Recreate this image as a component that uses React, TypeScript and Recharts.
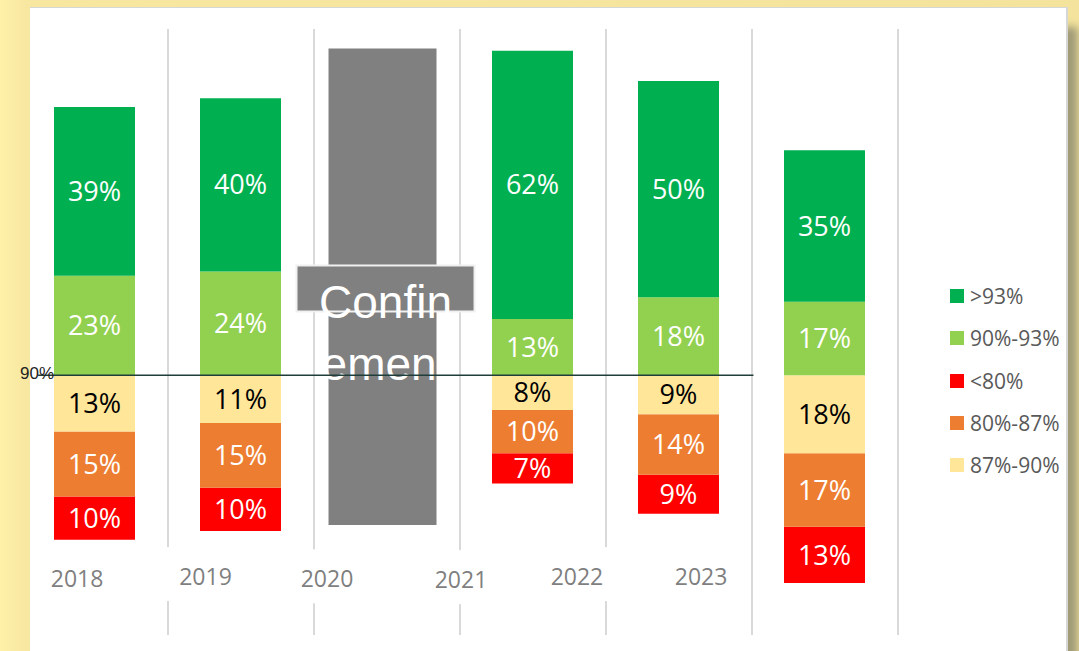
import {
  Bar,
  CartesianGrid,
  ComposedChart,
  LabelList,
  ReferenceLine,
  Scatter,
  XAxis,
  YAxis,
} from "recharts";

// bar slots on a numeric x axis (one slot = one category column)
const SLOTS = [0.5, 1.5, 2.5, 3.5, 4.5, 5.5];
const SEPARATORS = [1, 2, 3, 4, 5, 6];

// share of each band, per bar (null = confinement year)
const GT93 = [39, 40, null, 62, 50, 35];
const R90_93 = [23, 24, null, 13, 18, 17];
const R87_90 = [13, 11, null, 8, 9, 18];
const R80_87 = [15, 15, null, 10, 14, 17];
const LT80 = [10, 10, null, 7, 9, 13];

const CONFINEMENT_INDEX = 2;
const CONFINEMENT_POS = 2.466;
const CONFINEMENT_RANGE = [55.4, 165.5];
const THRESHOLD = 90;

// year captions sit in their own text boxes, not under the bars
const YEARS = ["2018", "2019", "2020", "2021", "2022", "2023"];
const YEAR_POS = [0.377, 1.257, 2.089, 3.007, 3.801, 4.651];
const YEAR_LEVEL = [43.1, 43.6, 43.1, 42.9, 43.6, 43.6];

const COLORS = {
  gt93: "#00B050",
  r90_93: "#92D050",
  lt80: "#FF0000",
  r80_87: "#ED7D31",
  r87_90: "#FFE699",
};

const LEGEND = [
  { key: "gt93", label: ">93%" },
  { key: "r90_93", label: "90%-93%" },
  { key: "lt80", label: "<80%" },
  { key: "r80_87", label: "80%-87%" },
  { key: "r87_90", label: "87%-90%" },
];

const rows = SLOTS.map((x, i) => ({
  x,
  gx: i === CONFINEMENT_INDEX ? CONFINEMENT_POS : x,
  base: GT93[i] == null ? null : THRESHOLD - ((LT80[i] ?? 0) + (R80_87[i] ?? 0) + (R87_90[i] ?? 0)),
  lt80: LT80[i],
  r80_87: R80_87[i],
  r87_90: R87_90[i],
  r90_93: R90_93[i],
  gt93: GT93[i],
  confinement: i === CONFINEMENT_INDEX ? CONFINEMENT_RANGE : null,
}));

const yearLabels = YEARS.map((label, i) => ({ x: YEAR_POS[i], y: YEAR_LEVEL[i], label }));

const pct = (v: unknown) => (v == null ? "" : `${v}%`);
const FONT = "'Open Sans', 'DejaVu Sans', sans-serif";

const YearBox = (props: any) => {
  const { cx, cy, payload } = props;
  if (cx == null || cy == null) return null;
  return (
    <g>
      <rect x={cx - 45} y={cy - 29} width={90} height={54} fill="#fff" />
      <text
        x={cx}
        y={cy}
        textAnchor="middle"
        dominantBaseline="central"
        fontFamily={FONT}
        fontSize={23}
        fill="#7F7F7F"
      >
        {payload.label}
      </text>
    </g>
  );
};

const ConfinementBox = (props: any) => {
  const vb = props.viewBox ?? props;
  const { x, y, width } = vb;
  if (x == null || !width) return null;
  const cx = x + width / 2 + 3;
  const top = y + 217;
  return (
    <g>
      <rect x={cx - 89} y={top} width={178} height={46} fill="#808080" stroke="#F0F0F0" strokeWidth={2} />
      <text
        x={cx}
        y={top + 53}
        textAnchor="middle"
        fontFamily="'Liberation Sans', Arial, sans-serif"
        fontSize={46}
        fill="#fff"
      >
        Confin
      </text>
      <text
        x={cx}
        y={top + 115}
        textAnchor="middle"
        fontFamily="'Liberation Sans', Arial, sans-serif"
        fontSize={46}
        fill="#fff"
      >
        ement
      </text>
    </g>
  );
};

const ThresholdLabel = (props: any) => {
  const vb = props.viewBox ?? {};
  return (
    <text
      x={(vb.x ?? 0) - 1}
      y={(vb.y ?? 0) - 2}
      textAnchor="middle"
      dominantBaseline="central"
      fontFamily="'Liberation Sans', Arial, sans-serif"
      fontSize={17}
      fill="#222"
    >
      90%
    </text>
  );
};

const separatorCoords = ({ xAxis, offset }: any) => {
  if (xAxis && typeof xAxis.scale === "function") {
    return SEPARATORS.map((v) => xAxis.scale(v));
  }
  return SEPARATORS.map((v) => offset.left + (v / 7) * offset.width);
};

export default function App() {
  const bands: { key: keyof typeof COLORS; text: string }[] = [
    { key: "lt80", text: "#fff" },
    { key: "r80_87", text: "#fff" },
    { key: "r87_90", text: "#000" },
    { key: "r90_93", text: "#fff" },
    { key: "gt93", text: "#fff" },
  ];

  return (
    <div
      style={{
        position: "absolute",
        left: 0,
        top: 0,
        width: 1079,
        height: 651,
        overflow: "hidden",
        background: "linear-gradient(90deg, #FFF1A8 0%, #F7E7A1 2.5%, #F3E39D 100%)",
      }}
    >
      <div
        style={{
          position: "absolute",
          left: 30,
          top: 7,
          width: 1036,
          height: 720,
          background: "#fff",
          borderTop: "1px solid #D6D6D6",
          borderRight: "2px solid #D6D6D6",
          boxShadow: "10px 20px 8px 0 #A19B78",
        }}
      />
      <div style={{ position: "absolute", left: 0, top: 0 }}>
        <ComposedChart
          width={1079}
          height={651}
          data={rows}
          margin={{ top: 29, right: 35, bottom: 16, left: 22 }}
        >
          <CartesianGrid
            horizontal={false}
            vertical
            stroke="#D9D9D9"
            strokeWidth={2}
            verticalCoordinatesGenerator={separatorCoords}
          />
          <XAxis dataKey="x" type="number" domain={[0, 7]} hide allowDataOverflow />
          <XAxis xAxisId="gray" dataKey="gx" type="number" domain={[0, 7]} hide allowDataOverflow />
          <XAxis xAxisId="labels" dataKey="x" type="number" domain={[0, 7]} hide allowDataOverflow />
          <YAxis type="number" domain={[30, 170]} hide allowDataOverflow />

          <Bar
            xAxisId="gray"
            dataKey="confinement"
            fill="#808080"
            barSize={108}
            legendType="none"
            isAnimationActive={false}
          >
            <LabelList dataKey="confinement" content={<ConfinementBox />} />
          </Bar>

          <Bar dataKey="base" stackId="s" fill="transparent" barSize={81} legendType="none" isAnimationActive={false} />
          {bands.map((b) => (
            <Bar key={b.key} dataKey={b.key} stackId="s" fill={COLORS[b.key]} barSize={81} isAnimationActive={false}>
              <LabelList
                dataKey={b.key}
                position="center"
                formatter={pct}
                fill={b.text}
                fontFamily={FONT}
                fontSize={27}
              />
            </Bar>
          ))}

          <Scatter
            xAxisId="labels"
            data={yearLabels}
            dataKey="y"
            shape={<YearBox />}
            legendType="none"
            isAnimationActive={false}
          />

          <ReferenceLine
            segment={[
              { x: 0.11, y: THRESHOLD },
              { x: 5.01, y: THRESHOLD },
            ]}
            stroke="#1F3D3A"
            strokeWidth={1.5}
            ifOverflow="visible"
            zIndex={2500}
            label={<ThresholdLabel />}
          />
        </ComposedChart>
      </div>

      <div style={{ position: "absolute", left: 950, top: 275, fontFamily: FONT }}>
        {LEGEND.map((item) => (
          <div key={item.key} style={{ display: "flex", alignItems: "center", height: 42.3 }}>
            <span
              style={{
                width: 14,
                height: 14,
                marginRight: 6,
                background: COLORS[item.key as keyof typeof COLORS],
              }}
            />
            <span style={{ fontSize: 21, color: "#595959" }}>{item.label}</span>
          </div>
        ))}
      </div>
    </div>
  );
}
